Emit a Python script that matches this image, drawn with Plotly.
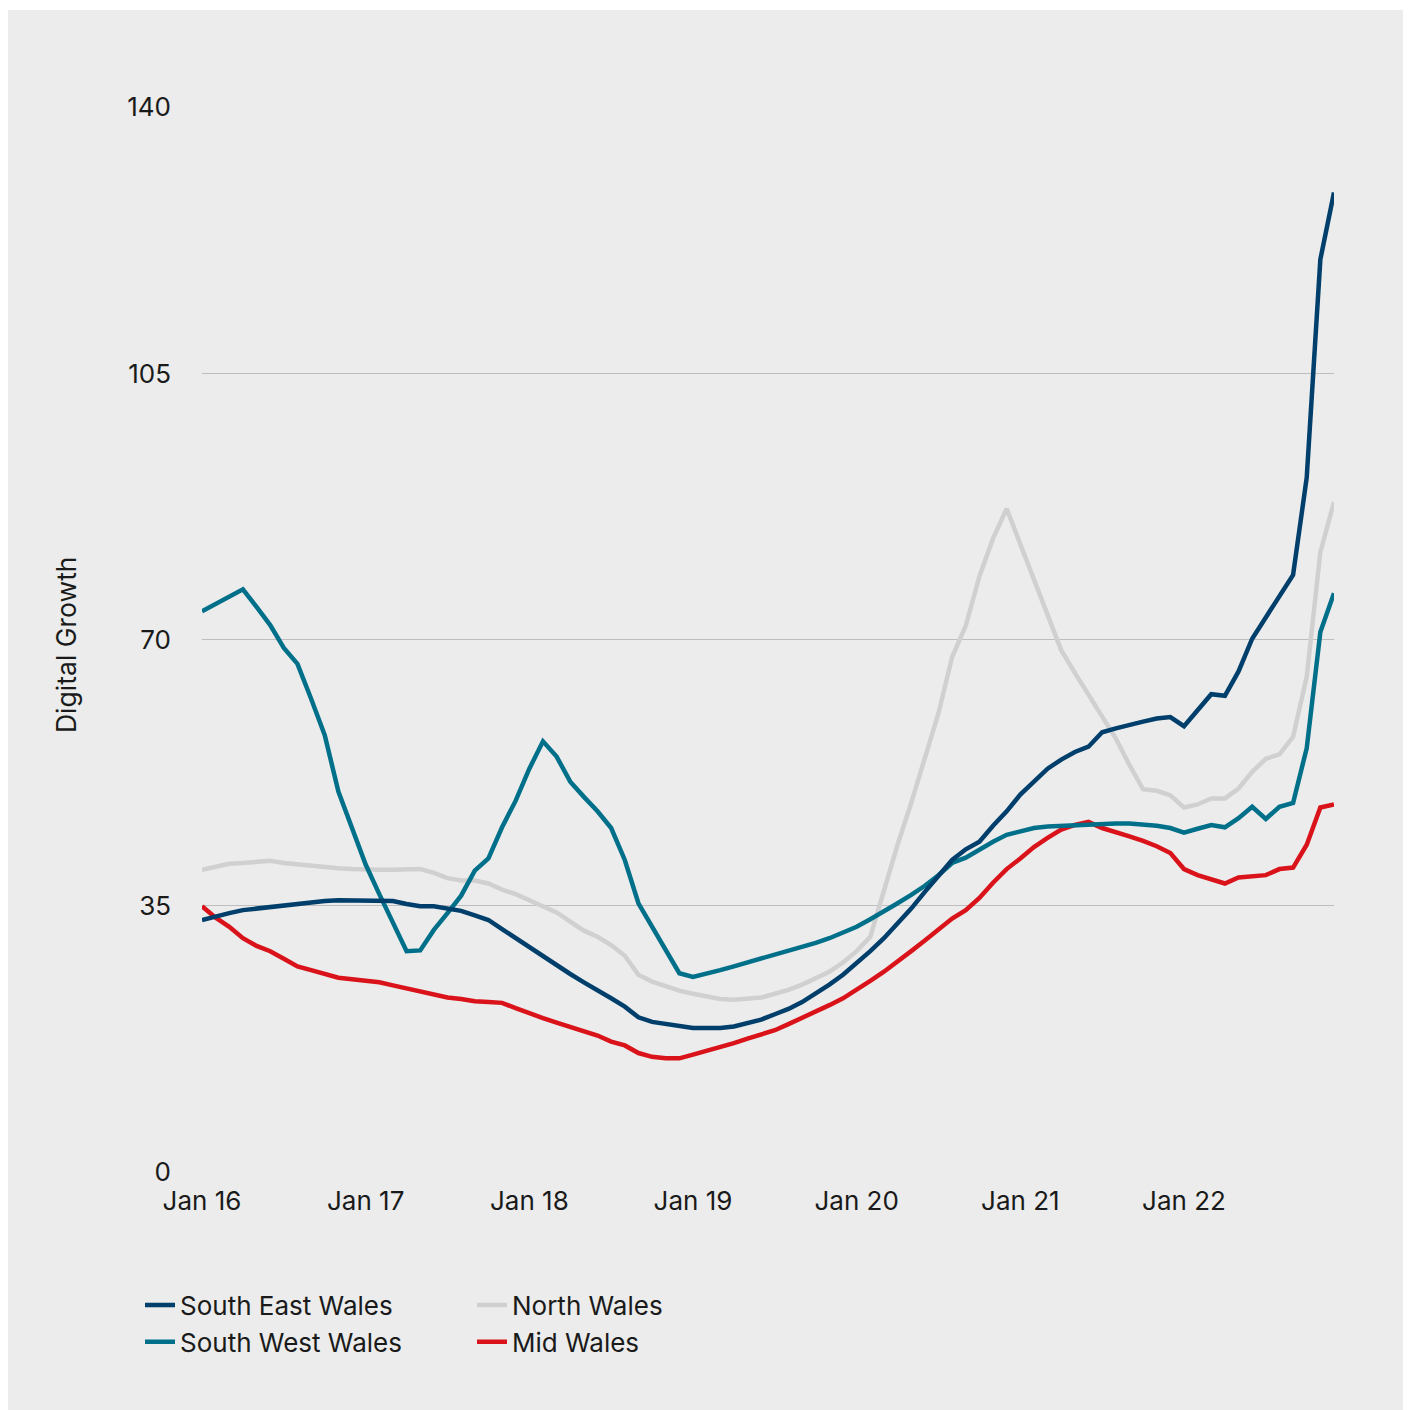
import plotly.graph_objects as go

# ---------------- data ----------------
month_names = ["Jan", "Feb", "Mar", "Apr", "May", "Jun",
               "Jul", "Aug", "Sep", "Oct", "Nov", "Dec"]
years = ["16", "17", "18", "19", "20", "21", "22"]
months = [f"{m} {y}" for y in years for m in month_names]
tick_labels = [f"Jan {y}" for y in years]
y_ticks = [0, 35, 70, 105, 140]

south_east = [
    33.1, 33.6, 34.0, 34.4, 34.6, 34.8, 35.1, 35.3, 35.5, 35.6, 35.7, 35.7,
    35.6, 35.6, 35.6, 35.2, 34.9, 34.9, 34.6, 34.3, 33.7, 33.1, 31.9, 30.7,
    29.6, 28.4, 27.2, 26.0, 24.9, 23.9, 22.8, 21.7, 20.3, 19.7, 19.4, 19.2,
    18.9, 18.9, 18.9, 19.1, 19.5, 20.0, 20.7, 21.4, 22.3, 23.4, 24.6, 25.9,
    27.4, 29.0, 30.7, 32.6, 34.6, 36.8, 38.9, 41.0, 42.4, 43.4, 45.5, 47.4,
    49.6, 51.4, 53.0, 54.2, 55.2, 55.9, 57.8, 58.3, 58.8, 59.2, 59.6, 59.8,
    58.6, 60.7, 62.8, 62.6, 65.8, 70.1, 72.9, 75.5, 78.5, 91.3, 120.0, 128.8,
]
south_west = [
    73.7, 74.7, 75.6, 76.6, 74.3, 71.9, 68.9, 66.8, 62.2, 57.4, 50.0, 45.2,
    40.4, 36.5, 32.7, 29.0, 29.1, 31.8, 34.0, 36.3, 39.6, 41.2, 45.3, 48.8,
    53.0, 56.6, 54.6, 51.3, 49.3, 47.4, 45.2, 41.0, 35.3, 32.2, 29.2, 26.1,
    25.6, 26.0, 26.5, 27.0, 27.5, 28.0, 28.5, 29.0, 29.5, 30.1, 30.7, 31.4,
    32.2, 33.2, 34.2, 35.3, 36.4, 37.6, 39.0, 40.6, 41.3, 42.4, 43.4, 44.3,
    44.8, 45.2, 45.4, 45.5, 45.5, 45.6, 45.7, 45.8, 45.8, 45.7, 45.5, 45.2,
    44.6, 45.1, 45.6, 45.3, 46.5, 48.0, 46.4, 48.0, 48.5, 55.7, 71.0, 76.1,
]
north = [
    39.7, 40.1, 40.5, 40.6, 40.8, 40.9, 40.6, 40.4, 40.2, 40.0, 39.9, 39.8,
    39.7, 39.7, 39.7, 39.8, 39.8, 39.3, 38.6, 38.3, 38.3, 37.9, 37.1, 36.5,
    35.7, 34.9, 34.1, 32.9, 31.7, 30.9, 29.8, 28.4, 25.9, 25.0, 24.4, 23.8,
    23.4, 23.0, 22.7, 22.6, 22.7, 22.9, 23.4, 23.9, 24.6, 25.4, 26.3, 27.5,
    29.0, 30.9, 37.0, 43.0, 48.5, 54.5, 60.3, 67.7, 71.8, 78.3, 83.3, 87.2,
    82.6, 78.0, 73.4, 68.6, 65.6, 62.7, 59.9, 57.0, 53.5, 50.3, 50.1, 49.5,
    47.9, 48.3, 49.1, 49.1, 50.4, 52.6, 54.3, 54.9, 57.2, 65.1, 81.5, 88.1,
]
mid = [
    34.9, 33.4, 32.2, 30.7, 29.7, 29.0, 28.0, 27.0, 26.5, 26.0, 25.5, 25.3,
    25.1, 24.9, 24.5, 24.1, 23.8, 23.3, 22.9, 22.7, 22.4, 22.3, 22.2, 21.5,
    20.8, 20.2, 19.6, 19.0, 18.4, 17.9, 17.1, 16.6, 15.6, 15.1, 14.9, 14.9,
    15.4, 15.9, 16.3, 16.9, 17.5, 18.0, 18.6, 19.4, 20.2, 21.0, 21.9, 22.8,
    23.9, 25.1, 26.3, 27.6, 29.0, 30.4, 31.8, 33.3, 34.4, 36.0, 38.0, 39.8,
    41.2, 42.7, 43.9, 45.0, 45.6, 46.0, 45.2, 44.7, 44.1, 43.5, 42.8, 41.9,
    39.8, 39.0, 38.5, 37.9, 38.7, 38.9, 39.0, 39.8, 40.0, 43.0, 47.9, 48.3,
]

# ---------------- style ----------------
FONT = "Inter"
TEXT = "#1a1a1a"
BG = "#EBECEB"
C_SE = "#003F6B"
C_SW = "#00708A"
C_N = "#D0D0D0"
C_MID = "#DA131B"
LW = 4.5
FS = 26

fig = go.Figure()
fig.add_trace(go.Scatter(x=months, y=north, name="North Wales", mode="lines",
                         line=dict(color=C_N, width=LW), legend="legend2", legendrank=1))
fig.add_trace(go.Scatter(x=months, y=mid, name="Mid Wales", mode="lines",
                         line=dict(color=C_MID, width=LW), legend="legend2", legendrank=2))
fig.add_trace(go.Scatter(x=months, y=south_west, name="South West Wales", mode="lines",
                         line=dict(color=C_SW, width=LW), legend="legend", legendrank=2))
fig.add_trace(go.Scatter(x=months, y=south_east, name="South East Wales", mode="lines",
                         line=dict(color=C_SE, width=LW), legend="legend", legendrank=1))

# plot area in pixels: x 202..1334, y 107..1172
L, R, T, B = 202, 1334, 107, 1172
W, H = 1408, 1410
pw, ph = R - L, B - T


def px(xp):
    return (xp - L) / pw


def py(yp):
    return (B - yp) / ph


fig.add_shape(type="rect", xref="paper", yref="paper",
              x0=px(8), x1=px(1403), y0=py(1410), y1=py(10),
              fillcolor=BG, line=dict(width=0), layer="below")

fig.add_annotation(text="Digital Growth", textangle=-90, showarrow=False,
                   xref="paper", yref="paper", x=px(66), y=py(645),
                   xanchor="center", yanchor="middle",
                   font=dict(family=FONT, size=26.5, color=TEXT))

legend_common = dict(
    font=dict(family=FONT, size=FS, color=TEXT),
    bgcolor="rgba(0,0,0,0)", borderwidth=0,
    orientation="v", itemwidth=30,
    xanchor="left", yanchor="middle",
    traceorder="normal",
)

fig.update_layout(
    width=W, height=H,
    margin=dict(l=L, r=W - R, t=T, b=H - B, pad=0),
    paper_bgcolor="white",
    plot_bgcolor=BG,
    font=dict(family=FONT, size=FS, color=TEXT),
    showlegend=True,
    legend=dict(x=px(140), y=py(1323.5), **legend_common),
    legend2=dict(x=px(472), y=py(1323.5), **legend_common),
    xaxis=dict(
        type="category", range=[0, len(months) - 1],
        tickmode="array", tickvals=tick_labels, ticktext=tick_labels,
        showgrid=False, zeroline=False, showline=False, ticks="",
        tickfont=dict(family=FONT, size=FS, color=TEXT),
        ticklabelstandoff=11,
    ),
    yaxis=dict(
        range=[-0.05, 140.05], tickmode="array", tickvals=y_ticks,
        showgrid=True, gridcolor="#BEBEBE", gridwidth=1.2,
        zeroline=False, showline=False, ticks="",
        tickfont=dict(family=FONT, size=FS, color=TEXT),
        ticklabelstandoff=30,
    ),
)

fig.write_html("out.html")
